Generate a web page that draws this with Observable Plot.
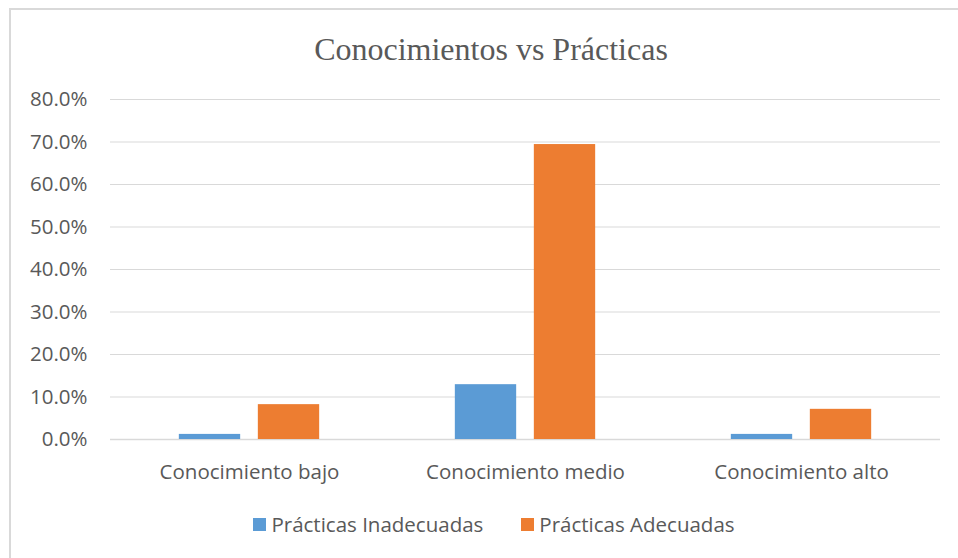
<!DOCTYPE html>
<html>
<head>
<meta charset="utf-8">
<script src="https://cdn.jsdelivr.net/npm/d3@7"></script>
<script src="https://cdn.jsdelivr.net/npm/@observablehq/plot@0.6"></script>
<style>
  html, body { margin: 0; padding: 0; background: #fff; overflow: hidden; }
  #frame { position: absolute; left: 9px; top: 8px; width: 1000px; height: 600px;
           border: 2px solid #d9d9d9; box-sizing: border-box; }
  #title { position: absolute; left: 0; width: 982px; top: 33px; text-align: center;
           font-family: "Liberation Serif", "Times New Roman", serif; font-size: 32px;
           color: #595959; line-height: 1; }
  #chart { position: absolute; left: 0; top: 0; }
  #legend { position: absolute; left: 0; width: 988px; top: 510px; display: flex;
            justify-content: center; gap: 38px; font-family: "Open Sans", sans-serif;
            font-size: 20.5px; color: #595959; line-height: 28px; }
  .item { display: flex; align-items: center; gap: 5px; }
  .sw { width: 13px; height: 13px; display: inline-block; }
</style>
</head>
<body>
<div id="frame"></div>
<div id="title">Conocimientos vs Prácticas</div>
<div id="chart"></div>
<div id="legend"></div>
<script>
const categories = ["Conocimiento bajo", "Conocimiento medio", "Conocimiento alto"];
const series = ["Prácticas Inadecuadas", "Prácticas Adecuadas"];
const inadecuadas = [1.2, 12.9, 1.2];
const adecuadas = [8.2, 69.4, 7.1];
const colors = ["#5B9BD5", "#ED7D31"];
const yTicks = [0, 10, 20, 30, 40, 50, 60, 70, 80];

const values = [inadecuadas, adecuadas];
const data = [];
series.forEach((s, si) => categories.forEach((c, ci) => data.push({category: c, series: s, value: values[si][ci]})));

// layout within each category band (band width ~276.7)
const W = 958, H = 495, mL = 110, mR = 18;
const band = (W - mL - mR) / categories.length;
const barW = 62, gap = 17;
const left0 = (band - (2 * barW + gap)) / 2;

const marks = [
  Plot.gridY(yTicks, {stroke: "#d9d9d9", strokeOpacity: 1, strokeWidth: 1}),
  Plot.ruleY([0], {stroke: "#d9d9d9", strokeWidth: 1.5})
];
series.forEach((s, si) => {
  const il = left0 + si * (barW + gap);
  marks.push(Plot.barY(data.filter(d => d.series === s), {
    x: "category", y: "value", fill: colors[si],
    insetLeft: il, insetRight: band - il - barW
  }));
});
marks.push(Plot.axisY(yTicks, {tickSize: 0, tickPadding: 23, tickFormat: d => d.toFixed(1) + "%",
  fontSize: 20.5, fill: "#595959", label: null}));
marks.push(Plot.axisX({tickSize: 0, tickPadding: 25, fontSize: 20.5, fill: "#595959", label: null}));

const chart = Plot.plot({
  width: W, height: H,
  marginLeft: mL, marginRight: mR, marginTop: 99, marginBottom: H - 439,
  style: {fontFamily: "'Open Sans', sans-serif", background: "transparent", overflow: "visible"},
  x: {domain: categories, padding: 0},
  y: {domain: [0, 80]},
  marks
});
document.getElementById("chart").appendChild(chart);

const legend = document.getElementById("legend");
series.forEach((s, i) => {
  const it = document.createElement("div");
  it.className = "item";
  it.innerHTML = `<span class="sw" style="background:${colors[i]}"></span><span>${s}</span>`;
  legend.appendChild(it);
});
</script>
</body>
</html>
